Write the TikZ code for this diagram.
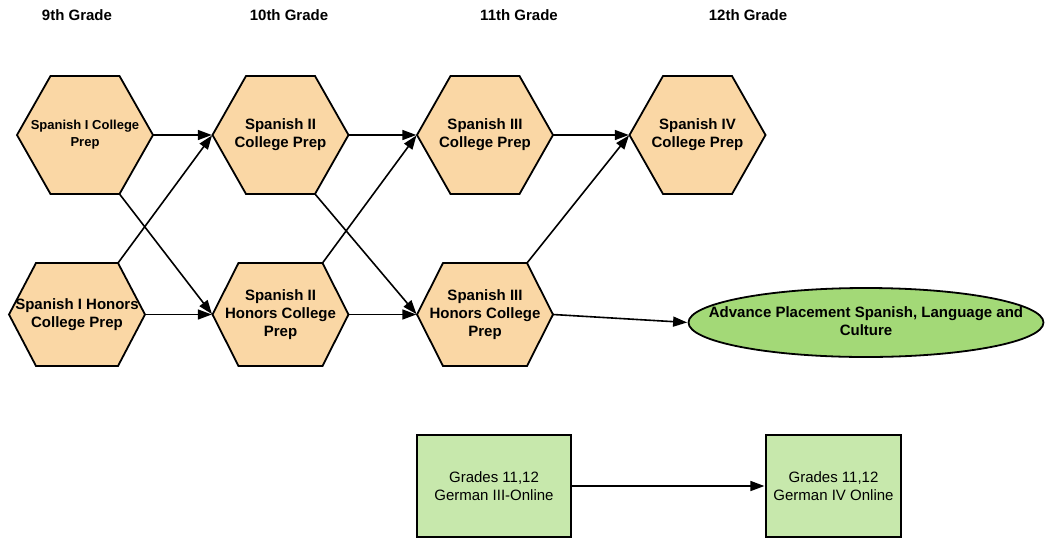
\documentclass[tikz,border=0pt]{standalone}
\usepackage{fontspec}
\setmainfont{Liberation Sans}
\usetikzlibrary{arrows.meta,shapes.geometric}
\definecolor{hexfill}{RGB}{250,215,165}
\definecolor{apgreen}{RGB}{163,217,119}
\definecolor{boxgreen}{RGB}{199,232,172}
\tikzset{
  hexline/.style={draw=black, fill=hexfill, line width=1.8pt, line join=miter},
  hextext/.style={inner sep=0pt, align=center, font=\fontsize{15}{18}\selectfont\bfseries},
  smalltext/.style={font=\fontsize{13}{17}\selectfont\bfseries},
  hdr/.style={inner sep=0pt, font=\fontsize{15}{18}\selectfont\bfseries},
  arr/.style={-{Triangle[length=14pt,width=10pt]}, line width=1.6pt, shorten >=0.5pt},
  gbox/.style={draw=black, fill=boxgreen, line width=2.2pt, minimum width=154pt, minimum height=102pt, inner sep=0pt, align=center, font=\fontsize{15}{18}\selectfont},
  apell/.style={ellipse, draw=black, fill=apgreen, line width=1.8pt, minimum width=355pt, minimum height=69pt, inner sep=0pt},
  aptext/.style={inner sep=0pt, align=center, font=\fontsize{15}{18}\selectfont\bfseries}
}
% options, name, cx, cy, half top edge, half height, text
\newcommand{\hexnode}[7]{%
  \draw[hexline] (#3-68,#4) -- (#3-#5,#4-#6) -- (#3+#5,#4-#6) -- (#3+68,#4)
     -- (#3+#5,#4+#6) -- (#3-#5,#4+#6) -- cycle;
  \node[hextext, minimum width=136pt, minimum height=2*#6, #1] (#2) at (#3,#4) {#7};
  \coordinate (#2-tr) at (#3+#5,#4-#6);
  \coordinate (#2-br) at (#3+#5,#4+#6);
}
\begin{document}
\begin{tikzpicture}[x=1pt,y=-1pt]
\useasboundingbox (0,0) rectangle (1045,539);
% headers
\node[hdr] (g9)  at (77,15)  {9th Grade};
\node[hdr] (g10) at (289,15) {10th Grade};
\node[hdr] (g11) at (519,15) {11th Grade};
\node[hdr] (g12) at (748,15) {12th Grade};
% top row
\hexnode{smalltext}{s1}{85}{135}{34.5}{59}{Spanish I College\\Prep}
\hexnode{}{s2}{280.5}{135}{34.5}{59}{Spanish II\\College Prep}
\hexnode{}{s3}{485}{135}{34.5}{59}{Spanish III\\College Prep}
\hexnode{}{s4}{697.5}{135}{34.5}{59}{Spanish IV\\College Prep}
% bottom row
\hexnode{}{h1}{77}{314.5}{41}{51.5}{Spanish I Honors\\College Prep}
\hexnode{}{h2}{280.5}{314.5}{42}{51.5}{Spanish II\\Honors College\\Prep}
\hexnode{}{h3}{485}{314.5}{42}{51.5}{Spanish III\\Honors College\\Prep}
% AP ellipse
\node[apell] (ap) at (866,322.5) {};
\node[aptext] (apt) at (866,321) {Advance Placement Spanish, Language and\\Culture};
% German boxes
\node[gbox] (ge3) at (494,486) {Grades 11,12\\German III-Online};
\node[gbox, minimum width=135pt] (ge4) at (833.5,486) {Grades 11,12\\German IV Online};
% arrows
\draw[arr] (s1.east) -- (s2.west);
\draw[arr] (s1-br) -- (h2.west);
\draw[arr] (h1-tr) -- (s2.west);
\draw[arr] (h1.east) -- (h2.west);
\draw[arr] (s2.east) -- (s3.west);
\draw[arr] (s2-br) -- (h3.west);
\draw[arr] (h2-tr) -- (s3.west);
\draw[arr] (h2.east) -- (h3.west);
\draw[arr] (s3.east) -- (s4.west);
\draw[arr] (h3-tr) -- (s4.west);
\draw[arr] (h3.east) -- (ap.west);
\draw[arr] (ge3.east) -- (ge4.west);
\end{tikzpicture}
\end{document}
